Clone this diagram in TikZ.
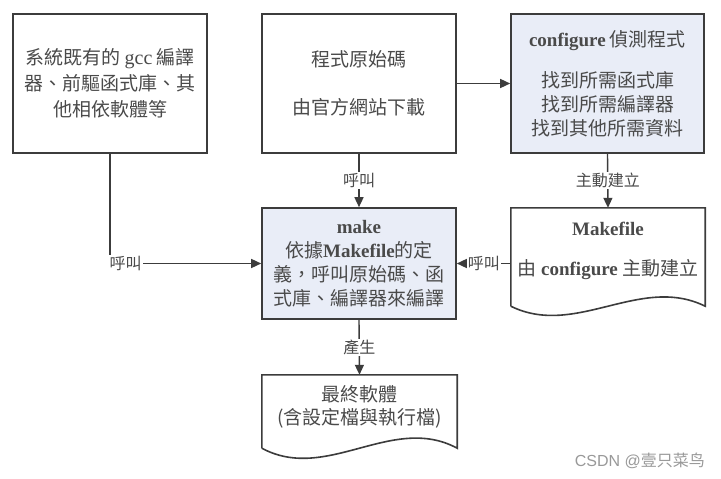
\documentclass[tikz,border=0pt]{standalone}
\usepackage{fontspec}
\setmainfont{Liberation Serif}
\newfontfamily\cjk{Noto Sans CJK TC}
\newfontfamily\cjksc{Noto Sans CJK SC}
\newfontfamily\latf{Liberation Serif}
\newfontfamily\wmf{Liberation Sans}
\usetikzlibrary{arrows.meta,calc}
\definecolor{ln}{HTML}{3C3C3C}
\definecolor{tx}{HTML}{4A4A4A}
\definecolor{fillb}{HTML}{E9EDF7}
\begin{document}
\begin{tikzpicture}[x=1pt,y=-1pt,
  box/.style={draw=ln,line width=1.6pt,align=center,text=tx,inner sep=0pt,
    font=\cjk\fontsize{19}{24}\selectfont},
  doc/.style={inner sep=0pt,minimum width=194pt},
  txt/.style={align=center,text=tx,inner sep=0pt,font=\cjk\fontsize{19}{24}\selectfont},
  arr/.style={draw=ln,line width=1.4pt,-{Triangle[length=10pt,width=9pt]}},
  lbl/.style={fill=white,text=tx,inner sep=1pt,font=\cjk\fontsize{16}{18}\selectfont}]
\useasboundingbox (0,0) rectangle (721,479);
\fill[white] (0,0) rectangle (721,479);

% top row
\node[box,minimum width=194pt,minimum height=139pt,font=\cjk\fontsize{19}{26}\selectfont] (b1) at (110,83.5)
  {系統既有的 {\latf\fontsize{20}{26}\selectfont gcc} 編譯\\器、前驅函式庫、其\\他相依軟體等};
\node[box,minimum width=194pt,minimum height=139pt] (b2) at (359,83.5)
  {程式原始碼\\[24pt]由官方網站下載};
\node[box,fill=fillb,minimum width=193pt,minimum height=139pt] (b3) at (607.5,83.5)
  {{\latf\bfseries configure} 偵測程式\\[17pt]找到所需函式庫\\找到所需編譯器\\找到其他所需資料};

% make
\node[box,fill=fillb,minimum width=194pt,minimum height=111pt] (mk) at (359,263.5)
  {{\latf\bfseries make}\\依據{\latf\bfseries Makefile}的定\\義，呼叫原始碼、函\\式庫、編譯器來編譯};

% Makefile document
\node[doc,minimum height=98pt] (mf) at (608,257) {};
\draw[ln,line width=1.6pt] (mf.south west) -- (mf.north west) -- (mf.north east) -- (mf.south east)
  .. controls +(-65,-32) and +(65,32) .. (mf.south west);
\node[txt] (mft) at ($(mf.center)+(0,-6)$)
  {{\latf\bfseries Makefile}\\[16pt]由 {\latf\bfseries configure} 主動建立};

% final document
\node[doc,minimum width=195pt,minimum height=73pt] (fn) at (359.5,411.5) {};
\draw[ln,line width=1.6pt] (fn.south west) -- (fn.north west) -- (fn.north east) -- (fn.south east)
  .. controls +(-65,-35) and +(65,35) .. (fn.south west);
\node[txt,font=\cjk\fontsize{19}{23}\selectfont] (fnt) at ($(fn.center)+(0,-5)$)
  {最終軟體\\(含設定檔與執行檔)};

% connectors
\draw[arr] (b2.east) -- (b3.west);
\draw[arr] (b2.south) -- node[lbl]{呼叫} (mk.north);
\draw[arr] (b3.south) -- node[lbl]{主動建立} (mf.north);
\draw[arr] (b1.south) |- node[lbl,pos=0.5,anchor=west,xshift=-2pt]{呼叫} (mk.west);
\draw[arr] (mf.west |- mk.east) -- node[lbl]{呼叫} (mk.east);
\draw[arr] (mk.south) -- node[lbl]{產生} (fn.north);

% watermark
\node[anchor=east,text=black!40,inner sep=0pt,font=\wmf\fontsize{16}{18}\selectfont] (wm) at (705,461)
  {CSDN @{\cjksc 壹只菜鸟}};
\end{tikzpicture}
\end{document}
